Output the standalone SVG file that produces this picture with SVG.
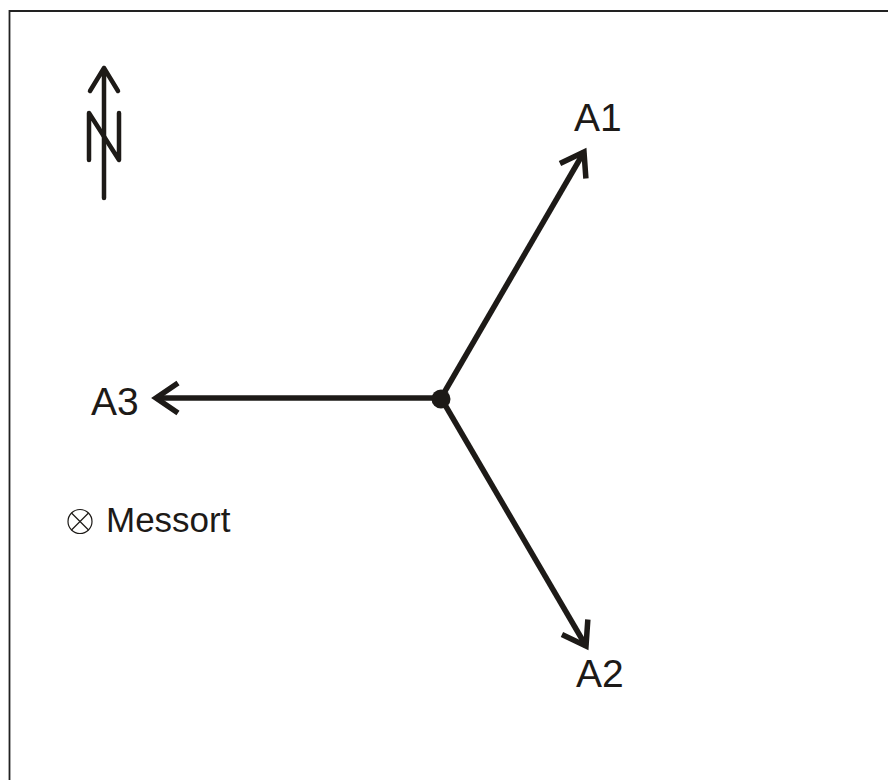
<svg xmlns="http://www.w3.org/2000/svg" width="888" height="780" viewBox="0 0 888 780">
<style>
.ln{stroke:#1d1a17;fill:none;stroke-width:5.5;stroke-linecap:butt}
.lbl{font-family:"Liberation Sans",Arial,sans-serif;font-size:39px;fill:#1d1a17}
.nr{stroke:#1d1a17;fill:none;stroke-width:4.5;stroke-linecap:round;stroke-linejoin:round}
</style>
<defs>
<marker id="ah" markerUnits="userSpaceOnUse" viewBox="-30 -20 34 40" refX="0" refY="0" markerWidth="34" markerHeight="40" orient="auto" overflow="visible">
<path d="M-22,-15 L0,0 L-22,15" fill="none" stroke="#1d1a17" stroke-width="5.5" stroke-linejoin="miter"/>
</marker>
</defs>
<rect width="888" height="780" fill="#fff"/>
<g id="frame"><path d="M9.5,780 V11 H888" fill="none" stroke="#222" stroke-width="1.8"/></g>
<g id="north">
<path class="nr" d="M104,198 V68 M90,91 L104,68 L118,91"/>
<path class="nr" d="M89,160 V113 L119,160 V113"/>
</g>
<g id="connectors">
<path class="ln" d="M441,398 L584,152" marker-end="url(#ah)"/>
<path class="ln" d="M441,398 L586,646" marker-end="url(#ah)"/>
<path class="ln" d="M441,398 L156,398" marker-end="url(#ah)"/>
</g>
<g id="center"><circle cx="441" cy="399" r="9.5" fill="#1d1a17"/></g>
<g id="A1"><text class="lbl" x="574" y="131">A1</text></g>
<g id="A2"><text class="lbl" x="576" y="687">A2</text></g>
<g id="A3"><text class="lbl" x="91" y="415">A3</text></g>
<g id="messort">
<circle cx="80" cy="521.5" r="12" fill="none" stroke="#1d1a17" stroke-width="1.2"/>
<path d="M71.5,513 L88.5,530 M88.5,513 L71.5,530" stroke="#1d1a17" stroke-width="1.2"/>
<text class="lbl" x="106" y="532" style="font-size:35px">Messort</text>
</g>
</svg>
